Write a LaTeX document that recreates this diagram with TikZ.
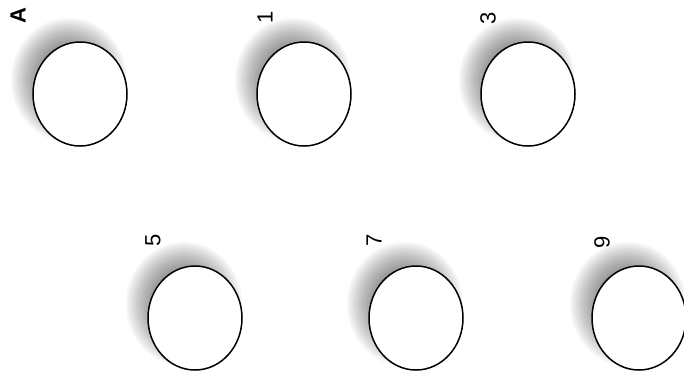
\documentclass[tikz,border=0pt]{standalone}
\usepackage{fontspec}
\setmainfont{Liberation Sans}
\usetikzlibrary{shapes.geometric}
\tikzset{
  well/.style={draw=black, line width=1.5pt, fill=white, ellipse, minimum width=94pt, minimum height=104pt, inner sep=0pt},
  lab/.style={rotate=90, font=\fontsize{22}{22}\selectfont, inner sep=0pt},
  blurlayer/.style={fill=black, fill opacity=0.036, draw=none},
}
\begin{document}
\begin{tikzpicture}[x=1pt,y=-1pt]
\useasboundingbox (0,0) rectangle (684,378);
\foreach \cx/\cy in {80/94, 304/94, 528/94, 195/318, 416/318, 639/318}{
  \foreach \k in {0,...,19}{
    \fill[blurlayer] (\cx-11,\cy-14) ellipse [x radius={58-2*\k}, y radius={62-2*\k}];
  }
}
\node[well] (wA) at (80,94) {};
\node[well] (w1) at (304,94) {};
\node[well] (w3) at (528,94) {};
\node[well] (w5) at (195,318) {};
\node[well] (w7) at (416,318) {};
\node[well] (w9) at (639,318) {};
\node[lab, font=\fontsize{22}{22}\selectfont\bfseries] (tA) at (18,16) {A};
\node[lab] (t1) at (265,17) {1};
\node[lab] (t3) at (488,18) {3};
\node[lab] (t5) at (153,240) {5};
\node[lab] (t7) at (374,240) {7};
\node[lab] (t9) at (602,242) {9};
\end{tikzpicture}
\end{document}
